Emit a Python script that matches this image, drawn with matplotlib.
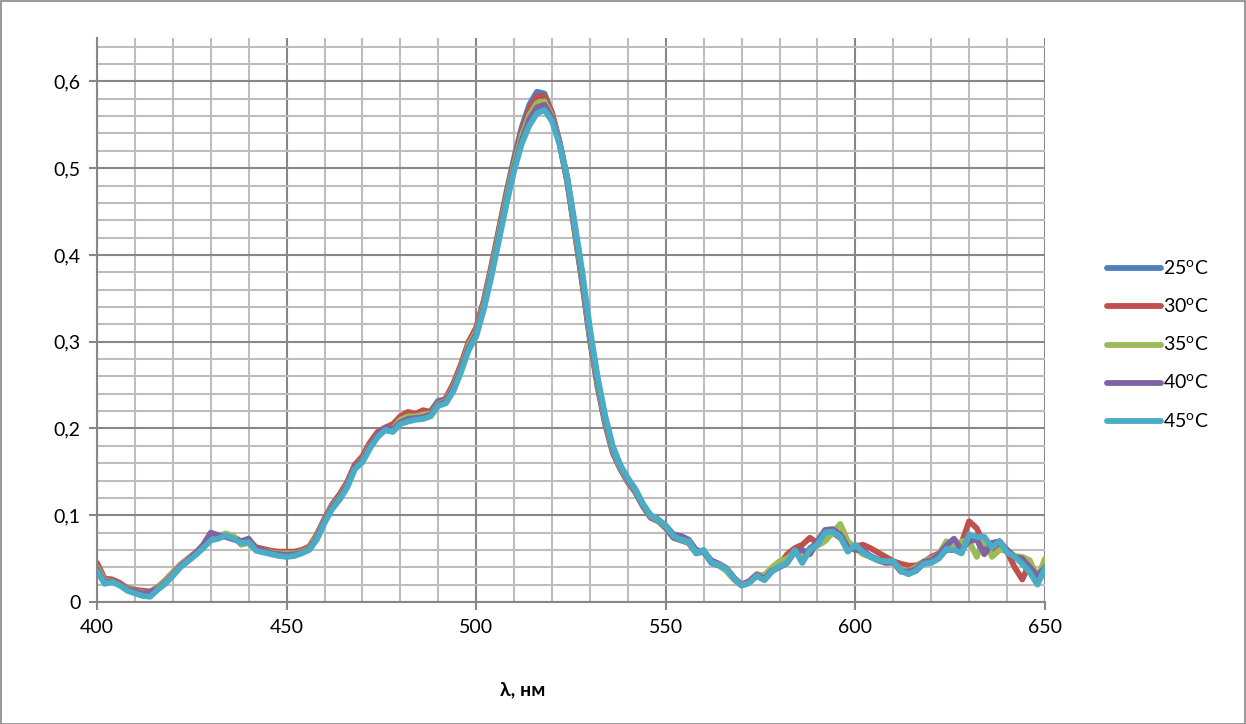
"""Absorption spectra at several temperatures (Excel-style chart)."""
import numpy as np
import matplotlib
matplotlib.use("Agg")
import matplotlib.pyplot as plt
from matplotlib.ticker import MultipleLocator, FuncFormatter
from matplotlib.patches import Rectangle

# ── data (2 nm step) ─────────────────────────────────────────────────────
wavelength = np.arange(400, 651, 2)

t25 = [0.040, 0.024, 0.025, 0.021, 0.015, 0.012, 0.010, 0.009, 0.015, 0.023,
       0.032, 0.042, 0.049, 0.056, 0.064, 0.074, 0.075, 0.076, 0.074, 0.069,
       0.070, 0.061, 0.059, 0.057, 0.055, 0.055, 0.056, 0.058, 0.062, 0.077,
       0.095, 0.112, 0.124, 0.138, 0.158, 0.167, 0.182, 0.194, 0.200, 0.199,
       0.208, 0.212, 0.213, 0.214, 0.220, 0.232, 0.233, 0.250, 0.272, 0.298,
       0.315, 0.347, 0.387, 0.430, 0.473, 0.512, 0.547, 0.573, 0.588, 0.586,
       0.563, 0.528, 0.484, 0.426, 0.366, 0.302, 0.248, 0.205, 0.172, 0.153,
       0.138, 0.126, 0.110, 0.097, 0.093, 0.085, 0.074, 0.071, 0.068, 0.056,
       0.058, 0.045, 0.042, 0.036, 0.026, 0.019, 0.023, 0.030, 0.027, 0.036,
       0.042, 0.047, 0.060, 0.048, 0.062, 0.068, 0.080, 0.082, 0.076, 0.060,
       0.065, 0.058, 0.053, 0.049, 0.047, 0.046, 0.036, 0.033, 0.036, 0.045,
       0.046, 0.051, 0.060, 0.062, 0.058, 0.076, 0.074, 0.072, 0.064, 0.068,
       0.058, 0.052, 0.046, 0.036, 0.022, 0.038]

t30 = [0.045, 0.027, 0.026, 0.022, 0.016, 0.014, 0.013, 0.012, 0.017, 0.025,
       0.034, 0.043, 0.050, 0.057, 0.065, 0.075, 0.075, 0.077, 0.075, 0.070,
       0.071, 0.063, 0.061, 0.059, 0.058, 0.058, 0.058, 0.060, 0.064, 0.078,
       0.096, 0.112, 0.124, 0.138, 0.158, 0.168, 0.184, 0.196, 0.201, 0.205,
       0.214, 0.219, 0.217, 0.221, 0.219, 0.229, 0.235, 0.252, 0.274, 0.300,
       0.316, 0.347, 0.386, 0.428, 0.470, 0.508, 0.542, 0.568, 0.583, 0.583,
       0.564, 0.530, 0.486, 0.428, 0.368, 0.304, 0.250, 0.207, 0.174, 0.154,
       0.139, 0.127, 0.111, 0.098, 0.094, 0.086, 0.075, 0.072, 0.070, 0.058,
       0.058, 0.047, 0.044, 0.038, 0.027, 0.020, 0.024, 0.032, 0.030, 0.036,
       0.043, 0.055, 0.062, 0.066, 0.074, 0.068, 0.078, 0.080, 0.074, 0.065,
       0.064, 0.066, 0.062, 0.057, 0.052, 0.047, 0.044, 0.042, 0.042, 0.046,
       0.052, 0.056, 0.060, 0.060, 0.068, 0.093, 0.085, 0.065, 0.060, 0.062,
       0.058, 0.040, 0.026, 0.045, 0.030, 0.036]

t35 = [0.040, 0.025, 0.024, 0.020, 0.015, 0.012, 0.011, 0.010, 0.016, 0.024,
       0.033, 0.042, 0.049, 0.056, 0.064, 0.073, 0.076, 0.079, 0.076, 0.066,
       0.068, 0.060, 0.059, 0.057, 0.056, 0.056, 0.056, 0.058, 0.062, 0.076,
       0.094, 0.110, 0.121, 0.135, 0.155, 0.164, 0.180, 0.192, 0.199, 0.200,
       0.210, 0.214, 0.214, 0.216, 0.217, 0.228, 0.232, 0.248, 0.270, 0.296,
       0.312, 0.343, 0.382, 0.424, 0.466, 0.504, 0.537, 0.561, 0.575, 0.577,
       0.560, 0.530, 0.488, 0.430, 0.372, 0.307, 0.253, 0.209, 0.176, 0.155,
       0.140, 0.128, 0.112, 0.099, 0.094, 0.087, 0.077, 0.072, 0.069, 0.057,
       0.059, 0.047, 0.043, 0.036, 0.026, 0.019, 0.022, 0.031, 0.031, 0.040,
       0.047, 0.050, 0.058, 0.052, 0.058, 0.065, 0.070, 0.080, 0.090, 0.070,
       0.062, 0.055, 0.052, 0.048, 0.046, 0.045, 0.038, 0.036, 0.040, 0.047,
       0.050, 0.055, 0.070, 0.062, 0.070, 0.070, 0.052, 0.075, 0.052, 0.060,
       0.060, 0.053, 0.052, 0.048, 0.028, 0.050]

t40 = [0.038, 0.023, 0.024, 0.020, 0.014, 0.012, 0.010, 0.011, 0.015, 0.022,
       0.031, 0.041, 0.048, 0.056, 0.066, 0.080, 0.077, 0.075, 0.072, 0.070,
       0.073, 0.061, 0.059, 0.056, 0.055, 0.054, 0.055, 0.057, 0.061, 0.074,
       0.093, 0.109, 0.120, 0.134, 0.155, 0.163, 0.179, 0.193, 0.201, 0.199,
       0.207, 0.211, 0.212, 0.213, 0.216, 0.227, 0.231, 0.246, 0.268, 0.293,
       0.309, 0.340, 0.378, 0.420, 0.462, 0.500, 0.532, 0.556, 0.570, 0.573,
       0.558, 0.529, 0.489, 0.433, 0.375, 0.310, 0.256, 0.212, 0.178, 0.157,
       0.141, 0.129, 0.112, 0.100, 0.095, 0.088, 0.078, 0.076, 0.072, 0.060,
       0.058, 0.048, 0.044, 0.039, 0.028, 0.020, 0.023, 0.031, 0.027, 0.036,
       0.040, 0.045, 0.058, 0.060, 0.055, 0.070, 0.083, 0.084, 0.078, 0.063,
       0.060, 0.060, 0.052, 0.048, 0.045, 0.046, 0.035, 0.035, 0.038, 0.046,
       0.048, 0.055, 0.065, 0.073, 0.060, 0.070, 0.072, 0.055, 0.068, 0.070,
       0.060, 0.052, 0.050, 0.040, 0.030, 0.040]

t45 = [0.036, 0.021, 0.023, 0.019, 0.013, 0.010, 0.007, 0.006, 0.014, 0.021,
       0.030, 0.040, 0.047, 0.054, 0.062, 0.071, 0.073, 0.077, 0.073, 0.068,
       0.069, 0.059, 0.057, 0.055, 0.053, 0.052, 0.053, 0.056, 0.060, 0.072,
       0.091, 0.107, 0.118, 0.132, 0.153, 0.161, 0.177, 0.190, 0.198, 0.196,
       0.205, 0.208, 0.210, 0.211, 0.214, 0.226, 0.229, 0.243, 0.265, 0.290,
       0.306, 0.337, 0.375, 0.417, 0.459, 0.497, 0.528, 0.549, 0.563, 0.567,
       0.554, 0.527, 0.490, 0.436, 0.380, 0.315, 0.260, 0.215, 0.180, 0.158,
       0.143, 0.130, 0.113, 0.100, 0.095, 0.088, 0.076, 0.072, 0.070, 0.057,
       0.060, 0.046, 0.043, 0.038, 0.027, 0.019, 0.022, 0.030, 0.025, 0.035,
       0.041, 0.045, 0.060, 0.045, 0.060, 0.066, 0.080, 0.081, 0.075, 0.058,
       0.066, 0.057, 0.052, 0.048, 0.047, 0.047, 0.036, 0.032, 0.036, 0.044,
       0.045, 0.050, 0.061, 0.060, 0.056, 0.078, 0.075, 0.075, 0.063, 0.070,
       0.057, 0.052, 0.044, 0.034, 0.020, 0.039]

labels = ["25$^\\mathregular{o}$C", "30$^\\mathregular{o}$C", "35$^\\mathregular{o}$C",
          "40$^\\mathregular{o}$C", "45$^\\mathregular{o}$C"]
colors = ["#4F81BD", "#C0504D", "#9BBB59", "#8064A2", "#4BACC6"]

# ── plot ─────────────────────────────────────────────────────────────────
plt.rcParams["font.family"] = ["Lato", "DejaVu Sans"]

W, H = 1246, 724
fig = plt.figure(figsize=(W / 100, H / 100), dpi=100)
ax = fig.add_axes([97 / W, 1 - 602 / H, (1045 - 97) / W, (602 - 38) / H])

for vals, lab, col in zip([t25, t30, t35, t40, t45], labels, colors):
    ax.plot(wavelength, vals, color=col, lw=4.2, label=lab,
            solid_joinstyle="round", solid_capstyle="round")

ax.set_xlim(400, 650)
ax.set_ylim(0, 0.65)
ax.xaxis.set_major_locator(MultipleLocator(50))
ax.xaxis.set_minor_locator(MultipleLocator(10))
ax.yaxis.set_major_locator(MultipleLocator(0.1))
ax.yaxis.set_minor_locator(MultipleLocator(0.02))
ax.yaxis.set_major_formatter(FuncFormatter(
    lambda v, _: "0" if abs(v) < 1e-9 else f"{v:.1f}".replace(".", ",")))

ax.grid(which="major", color="#878787", lw=1.5)
ax.grid(which="minor", color="#BDBDBD", lw=1.5)
ax.set_axisbelow(True)
for s in ("top", "right"):
    ax.spines[s].set_visible(False)
for s in ("left", "bottom"):
    ax.spines[s].set_color("#878787")
    ax.spines[s].set_linewidth(1.5)
ax.tick_params(which="major", length=6, width=1.5, color="#878787",
               labelsize=14, pad=6)
ax.tick_params(which="minor", length=0)

fig.text(523 / W, 1 - 690 / H, "λ, нм", ha="center", va="center",
         fontsize=14, fontweight="bold")

fig.legend(loc="center left", bbox_to_anchor=(1089 / W, 1 - 345 / H),
           frameon=False, fontsize=14, handlelength=2.8, handletextpad=0.1,
           labelspacing=1.0)

fig.patches.append(Rectangle((0.5 / W, 0.5 / H), 1 - 1.5 / W, 1 - 1.5 / H,
                             transform=fig.transFigure, fill=False,
                             edgecolor="#878787", lw=1.2))

fig.savefig("out.png", dpi=100)
